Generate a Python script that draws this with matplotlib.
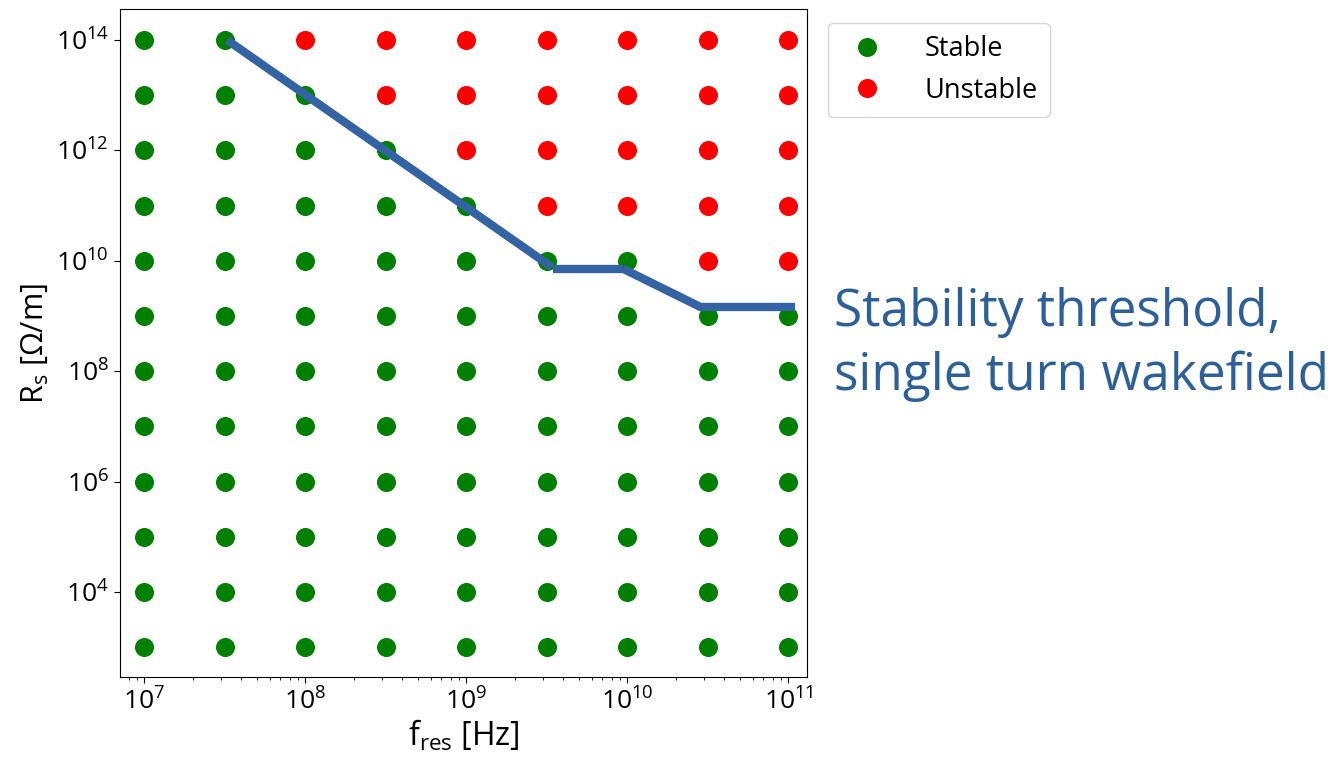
import numpy as np
import matplotlib
matplotlib.use("Agg")
import matplotlib.pyplot as plt
from matplotlib.ticker import LogLocator, NullLocator

plt.rcParams['font.family'] = ['Open Sans', 'DejaVu Sans']
plt.rcParams['mathtext.fontset'] = 'custom'
plt.rcParams['mathtext.rm'] = 'Open Sans'
plt.rcParams['mathtext.it'] = 'Open Sans:italic'
plt.rcParams['mathtext.bf'] = 'Open Sans:bold'

# Scan grid: resonator frequency [Hz] and shunt impedance [Ohm/m]
f_res = [1.0e7, 3.16e7, 1.0e8, 3.16e8, 1.0e9, 3.16e9, 1.0e10, 3.16e10, 1.0e11]
R_s = [1e3, 1e4, 1e5, 1e6, 1e7, 1e8, 1e9, 1e10, 1e11, 1e12, 1e13, 1e14]

# 1 = unstable, 0 = stable; one row per R_s value (low to high), one column per f_res
unstable = [
    [0, 0, 0, 0, 0, 0, 0, 0, 0],  # 1e3
    [0, 0, 0, 0, 0, 0, 0, 0, 0],  # 1e4
    [0, 0, 0, 0, 0, 0, 0, 0, 0],  # 1e5
    [0, 0, 0, 0, 0, 0, 0, 0, 0],  # 1e6
    [0, 0, 0, 0, 0, 0, 0, 0, 0],  # 1e7
    [0, 0, 0, 0, 0, 0, 0, 0, 0],  # 1e8
    [0, 0, 0, 0, 0, 0, 0, 0, 0],  # 1e9
    [0, 0, 0, 0, 0, 0, 0, 1, 1],  # 1e10
    [0, 0, 0, 0, 0, 1, 1, 1, 1],  # 1e11
    [0, 0, 0, 0, 1, 1, 1, 1, 1],  # 1e12
    [0, 0, 0, 1, 1, 1, 1, 1, 1],  # 1e13
    [0, 0, 1, 1, 1, 1, 1, 1, 1],  # 1e14
]

# Single-turn wakefield stability threshold, drawn as three pieces
thr1_f = [3.27e7, 3.4e9]
thr1_R = [1.0e14, 7.7e9]
thr2_f = [3.45e9, 9.4e9]
thr2_R = [7.2e9, 7.2e9]
thr3_f = [9.4e9, 2.84e10, 1.1e11]
thr3_R = [7.2e9, 1.46e9, 1.46e9]

F, R = np.meshgrid(f_res, R_s)
mask = np.array(unstable, dtype=bool)

fig = plt.figure(figsize=(13.41, 7.63), dpi=100)
ax = fig.add_axes([0.0895, 0.1123, 0.6016 - 0.0895, 0.9878 - 0.1123])

ax.plot(F[~mask], R[~mask], 'o', color='green', ms=12.7, ls='none', label='Stable')
ax.plot(F[mask], R[mask], 'o', color='red', ms=12.7, ls='none', label='Unstable')

line_color = '#3363a3'
for xs, ys in [(thr1_f, thr1_R), (thr2_f, thr2_R), (thr3_f, thr3_R)]:
    ax.plot(xs, ys, color=line_color, lw=6, solid_capstyle='butt', zorder=3)

ax.set_xscale('log')
ax.set_yscale('log')
ax.set_xlim(7.07e6, 1.30e11)
ax.set_ylim(10**2.457, 10**14.556)
ax.yaxis.set_major_locator(LogLocator(base=10, numticks=7))
ax.yaxis.set_minor_locator(NullLocator())

ax.tick_params(axis='both', which='major', labelsize=19, length=4.5)
ax.set_xlabel(r'$\mathregular{f_{res}}$ [Hz]', fontsize=23, labelpad=2)
ax.set_ylabel(r'$\mathregular{R_s}$ [Ω/m]', fontsize=22, labelpad=4)

fig.legend(loc='upper left', bbox_to_anchor=(0.6175, 0.97), borderaxespad=0,
           fontsize=19.5, handletextpad=1.1, labelspacing=0.5, borderpad=0.45)

text_color = '#2d5f98'
fig.text(0.6220, 1 - 325.5 / 763, 'Stability threshold,', fontsize=37,
         color=text_color, ha='left', va='baseline')
fig.text(0.6220, 1 - 389.5 / 763, 'single turn wakefield', fontsize=37,
         color=text_color, ha='left', va='baseline')

fig.savefig('out.png', dpi=100)
